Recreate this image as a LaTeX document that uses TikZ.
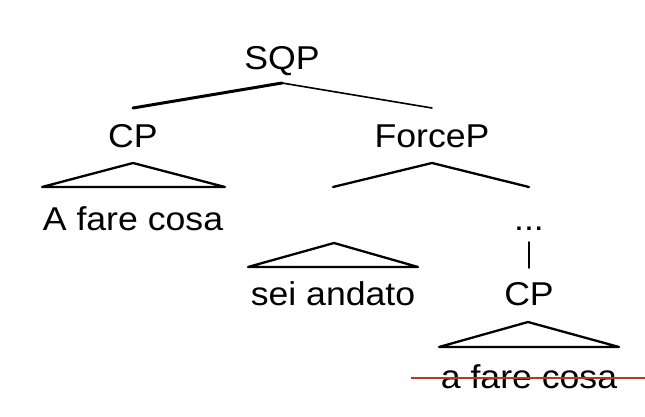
\documentclass[tikz,border=0pt]{standalone}
\usepackage{fontspec}
\setmainfont{Liberation Sans}[FakeStretch=1.08]
\definecolor{strike}{RGB}{184,58,30}
\begin{document}
\begin{tikzpicture}[x=1pt,y=-1pt,
  lbl/.style={inner sep=0pt,anchor=base,font=\fontsize{33}{36}\selectfont},
  branch/.style={line width=2.3pt,line cap=round,line join=round},
  thinbranch/.style={line width=1.6pt,line cap=round},
  thickbranch/.style={line width=3pt,line cap=round}]
\useasboundingbox[fill=white] (0,0) rectangle (645,417);
% nodes
\node[lbl] (sqp) at (282,70) {SQP};
\node[lbl] (cp1) at (133,148) {CP};
\node[lbl] (force) at (432,148) {ForceP};
\node[lbl] (afare) at (133,230) {A fare cosa};
\node[lbl] (dots) at (529,230) {...};
\node[lbl] (sei) at (333,305) {sei andato};
\node[lbl] (cp2) at (529,305) {CP};
\node[lbl] (afare2) at (529,388) {a fare cosa};
% coordinates
\coordinate (sqpA) at (282,83);
\coordinate (sqpL) at (133,108);
\coordinate (sqpR) at (432,108);
\coordinate (cpA) at (133,163);
\coordinate (cpL) at (42,187);
\coordinate (cpR) at (225,187);
\coordinate (fA) at (432,163);
\coordinate (fL) at (333,187);
\coordinate (fR) at (529,187);
\coordinate (sA) at (334,243);
\coordinate (sL) at (248,267);
\coordinate (sR) at (418,267);
\coordinate (vT) at (529,242);
\coordinate (vB) at (529,268);
\coordinate (cA) at (528,322);
\coordinate (cL) at (439,347);
\coordinate (cR) at (619,347);
\coordinate (redL) at (411,378);
\coordinate (redR) at (645,378);
% branches
\draw[thickbranch] (sqpL) -- (sqpA);
\draw[thinbranch] (sqpA) -- (sqpR);
\draw[branch] (cpL) -- (cpA) -- (cpR) -- cycle;
\draw[branch] (fL) -- (fA) -- (fR);
\draw[branch] (sL) -- (sA) -- (sR) -- cycle;
\draw[thinbranch] (vT) -- (vB);
\draw[branch] (cL) -- (cA) -- (cR) -- cycle;
\draw[strike,line width=1.6pt] (redL) -- (redR);
\end{tikzpicture}
\end{document}
